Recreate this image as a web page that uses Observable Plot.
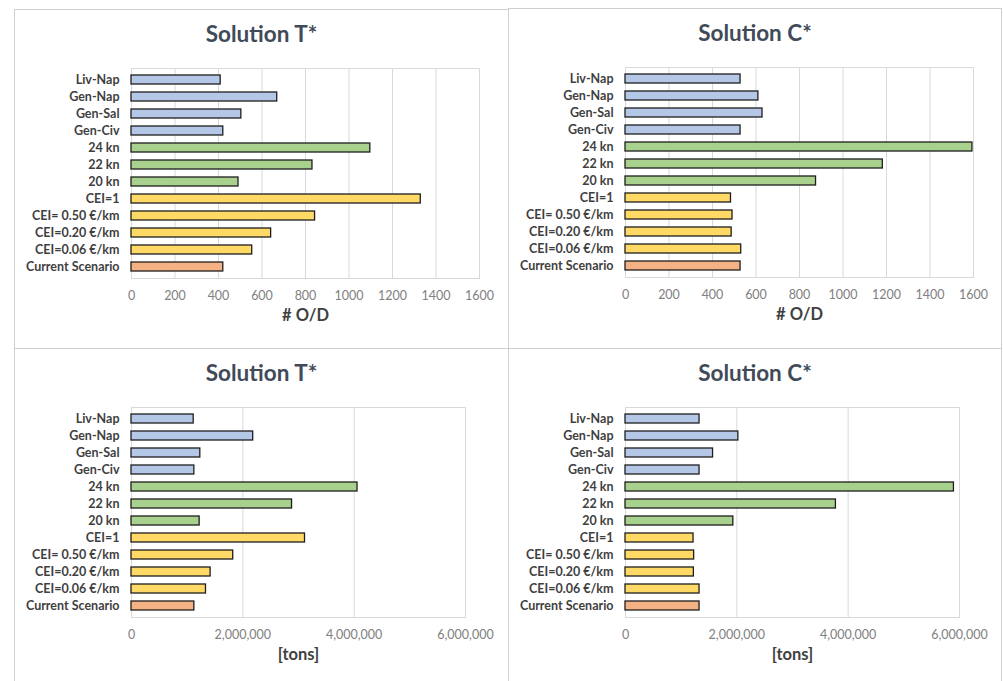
<!DOCTYPE html>
<html>
<head>
<meta charset="utf-8">
<script src="https://cdn.jsdelivr.net/npm/d3@7"></script>
<script src="https://cdn.jsdelivr.net/npm/@observablehq/plot@0.6"></script>
<style>
  html, body { margin: 0; padding: 0; background: #fff; overflow: hidden; }
  #root { position: relative; width: 1003px; height: 681px; overflow: hidden; font-family: Lato, "Open Sans", sans-serif; }
  .panel { position: absolute; box-sizing: border-box; border: 1px solid #cfcfcf; background: #fff; }
  .panel svg { position: absolute; left: 0; top: 0; }
  .title { position: absolute; left: 0; width: 100%; text-align: center; font-weight: bold; font-size: 22.5px; line-height: 24px; color: #414a58; }
</style>
</head>
<body>
<div id="root"></div>
<script>
const categories = ["Liv-Nap","Gen-Nap","Gen-Sal","Gen-Civ","24 kn","22 kn","20 kn","CEI=1","CEI= 0.50 €/km","CEI=0.20 €/km","CEI=0.06 €/km","Current Scenario"];
const groups = ["route","route","route","route","speed","speed","speed","cei","cei","cei","cei","current"];
const groupColors = {route: "#b4c7e7", speed: "#a9d18e", cei: "#ffd966", current: "#f4b183"};

const odT = [410, 670, 505, 422, 1098, 832, 492, 1330, 844, 642, 555, 422];
const odC = [529, 611, 630, 529, 1595, 1183, 876, 485, 492, 488, 532, 529];
const tonsT = [1117000, 2186000, 1236000, 1129000, 4060000, 2884000, 1224000, 3117000, 1827000, 1421000, 1338000, 1129000];
const tonsC = [1330000, 2027000, 1573000, 1330000, 5900000, 3780000, 1937000, 1222000, 1233000, 1228000, 1330000, 1330000];

const odTicks = [0, 200, 400, 600, 800, 1000, 1200, 1400, 1600];
const tonsTicks = [0, 2000000, 4000000, 6000000];

const panels = [
  {title: "Solution T*", values: odT, ticks: odTicks, fmt: d => String(d), label: "# O/D", left: 14, top: 9, width: 495, height: 340, marginRight: 29},
  {title: "Solution C*", values: odC, ticks: odTicks, fmt: d => String(d), label: "# O/D", left: 508, top: 8, width: 494, height: 341, marginRight: 28},
  {title: "Solution T*", values: tonsT, ticks: tonsTicks, fmt: d3.format(","), label: "[tons]", left: 14, top: 348, width: 495, height: 340, marginRight: 43},
  {title: "Solution C*", values: tonsC, ticks: tonsTicks, fmt: d3.format(","), label: "[tons]", left: 508, top: 348, width: 494, height: 340, marginRight: 42}
];

const root = document.getElementById("root");
for (const p of panels) {
  const div = document.createElement("div");
  div.className = "panel";
  Object.assign(div.style, {left: p.left + "px", top: p.top + "px", width: p.width + "px", height: p.height + "px"});
  const data = categories.map((c, i) => ({category: c, group: groups[i], value: p.values[i]}));
  const chart = Plot.plot({
    width: p.width - 2,
    height: 338,
    marginLeft: 116,
    marginRight: p.marginRight,
    marginTop: 58,
    marginBottom: 70,
    style: {fontFamily: "Lato, 'Open Sans', sans-serif", fontSize: "12px", background: "transparent"},
    x: {domain: [p.ticks[0], p.ticks[p.ticks.length - 1]], label: null},
    y: {domain: categories, paddingInner: 0.5, paddingOuter: 0.23, label: null},
    marks: [
      Plot.gridX(p.ticks, {stroke: "#d9d9d9", strokeOpacity: 1, strokeWidth: 1}),
      Plot.frame({stroke: "#d9d9d9"}),
      Plot.barX(data, {x: "value", y: "category", fill: d => groupColors[d.group], stroke: "#1e1e1e", strokeWidth: 1.3}),
      Plot.axisX({ticks: p.ticks, tickFormat: p.fmt, tickSize: 0, tickPadding: 13, label: null, fill: "#808080", fontSize: 12.5}),
      Plot.axisY({tickSize: 0, tickPadding: 12, label: null, fill: "#3f3f3f", fontWeight: "bold", fontSize: 12.5}),
      Plot.text([p.label], {text: d => d, frameAnchor: "bottom", dy: 42, fontWeight: "bold", fontSize: 16.5, fill: "#404040"})
    ]
  });
  div.appendChild(chart);
  const t = document.createElement("div");
  t.className = "title";
  t.style.top = "12px";
  t.textContent = p.title;
  div.appendChild(t);
  root.appendChild(div);
}
</script>
</body>
</html>
